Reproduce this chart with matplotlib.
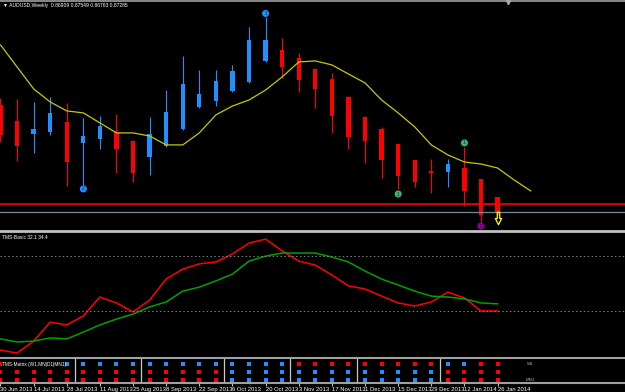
import matplotlib
matplotlib.use("Agg")
import matplotlib.pyplot as plt
from matplotlib.lines import Line2D
from matplotlib.path import Path
import matplotlib.transforms as mtransforms

plt.rcParams['font.family'] = ['Liberation Sans', 'DejaVu Sans']

# weekly AUDUSD candles, 30 Jun 2013 .. 26 Jan 2014
opens = [0.9273, 0.9185, 0.9113, 0.9124, 0.9179, 0.9064, 0.9086, 0.9124, 0.9075, 0.8987,
         0.9047, 0.9141, 0.9262, 0.9295, 0.9350, 0.9399, 0.9515, 0.9575, 0.9531, 0.9471,
         0.9416, 0.9317, 0.9207, 0.9141, 0.9058, 0.8970, 0.8910, 0.8904, 0.8926, 0.8866,
         0.8767]
highs = [0.9311, 0.9306, 0.9289, 0.9317, 0.9284, 0.9201, 0.9212, 0.9223, 0.9080, 0.9207,
         0.9355, 0.9542, 0.9465, 0.9465, 0.9493, 0.9702, 0.9757, 0.9641, 0.9559, 0.9476,
         0.9449, 0.9322, 0.9212, 0.9152, 0.9058, 0.8970, 0.8976, 0.8976, 0.9042, 0.8866,
         0.8767]
lows = [0.9069, 0.8965, 0.9009, 0.9108, 0.8827, 0.8827, 0.9031, 0.8899, 0.8849, 0.8888,
        0.9042, 0.9135, 0.9256, 0.9267, 0.9344, 0.9394, 0.9509, 0.9421, 0.9344, 0.9256,
        0.9119, 0.9031, 0.8954, 0.8871, 0.8811, 0.8822, 0.8789, 0.8822, 0.8717, 0.8629,
        0.8668]
closes = [0.9108, 0.9047, 0.9141, 0.9229, 0.8959, 0.9102, 0.9157, 0.9031, 0.8899, 0.9113,
          0.9234, 0.9388, 0.9333, 0.9405, 0.9460, 0.9630, 0.9630, 0.9482, 0.9410, 0.9361,
          0.9212, 0.9097, 0.9075, 0.8970, 0.8882, 0.8849, 0.8899, 0.8948, 0.8800, 0.8668,
          0.8684]

# moving average (shifted two bars forward)
ma = [0.9603, 0.9482, 0.9361, 0.9289, 0.9240, 0.9229, 0.9174, 0.9119, 0.9119, 0.9102,
      0.9053, 0.9053, 0.9119, 0.9218, 0.9267, 0.9300, 0.9355, 0.9427, 0.9509, 0.9515,
      0.9493, 0.9443, 0.9394, 0.9300, 0.9229, 0.9152, 0.9053, 0.8998, 0.8959, 0.8948,
      0.8926, 0.8860, 0.8800]

bid_line = 0.8726
low_line = 0.8682

# wave labels
mark_idx = [16, 5, 24, 28, 29]
mark_price = [0.9776, 0.8811, 0.8783, 0.9064, 0.8607]
mark_text = ['1', '2', '1', '1', '3']
mark_color = ['#1e90ff', '#1e90ff', '#3cb371', '#3cb371', '#8b008b']

arrow_idx = 30
arrow_price = 0.8652

# TMS-Basic indicator
tms_red = [19.5, 18.5, 22.4, 28.5, 27.6, 30.5, 36.6, 34.7, 31.8, 35.6, 42.4, 45.6, 47.3,
           47.9, 50.5, 54.0, 55.3, 51.5, 48.2, 46.9, 43.7, 40.2, 39.2, 36.9, 34.7, 33.7,
           35.0, 38.2, 36.3, 32.1, 32.1]
tms_green = [23.1, 22.1, 22.4, 23.4, 23.1, 25.3, 27.6, 29.5, 31.1, 33.4, 35.0, 38.5, 39.8,
             41.8, 44.0, 48.2, 49.8, 50.8, 50.8, 50.8, 49.5, 47.9, 45.0, 42.4, 40.5, 38.5,
             36.9, 36.6, 36.0, 34.7, 34.4]
tms_levels = [32, 50]

# TMS-Matrix rows ('' = hidden under the label)
row_w1 = ['R', '', '', '', 'B', 'B', 'B', 'B', 'B', 'B', 'B', 'B', 'B', 'B', 'B', 'B', 'B',
          'B', 'R', 'R', 'R', 'R', 'R', 'R', 'R', 'R', 'R', 'B', 'B', 'R', 'R']
row_mid = ['R'] * 14 + ['B'] * 13 + ['R'] * 4
row_mn1 = ['R'] * 14 + ['B'] * 13 + ['R'] * 4
month_breaks = [4.5, 8.5, 13.5, 17.5, 21.5, 26.5]

date_labels = ['30 Jun 2013', '14 Jul 2013', '28 Jul 2013', '11 Aug 2013', '25 Aug 2013',
               '8 Sep 2013', '22 Sep 2013', '6 Oct 2013', '20 Oct 2013', '3 Nov 2013',
               '17 Nov 2013', '1 Dec 2013', '15 Dec 2013', '29 Dec 2013', '12 Jan 2014',
               '26 Jan 2014']

BULL = '#1e90ff'
BEAR = '#ff0000'
H = 392.0

fig = plt.figure(figsize=(6.25, 3.92), dpi=100, facecolor='black')
xlim = (-0.03, 37.69)

def box(top, bottom):
    return [0, 1 - bottom / H, 1, (bottom - top) / H]

ax = fig.add_axes(box(2, 230))
ind = fig.add_axes(box(233, 356))
mat = fig.add_axes(box(358, 383))
for a in (ax, ind, mat):
    a.set_facecolor('black')
    a.set_xlim(*xlim)
    for s in a.spines.values():
        s.set_visible(False)
    a.set_yticks([])

# main chart
n = len(opens)
xs = list(range(n))
cols = [BULL if c >= o else BEAR for o, c in zip(opens, closes)]
ax.vlines(xs, lows, highs, colors=cols, lw=0.8)
ax.bar(xs, [abs(c - o) for o, c in zip(opens, closes)],
       bottom=[min(o, c) for o, c in zip(opens, closes)],
       width=0.26, color=cols, lw=0)
ax.plot(range(len(ma)), ma, color='#c8c800', lw=0.9)
ax.axhline(bid_line, color='#ff0000', lw=1.2)
ax.axhline(low_line, color='#778899', lw=0.9)
ax.scatter(mark_idx, mark_price, s=26, c=mark_color, zorder=5, lw=0)
for i, p, t in zip(mark_idx, mark_price, mark_text):
    ax.text(i, p, t, fontsize=3.5, color='#102040', ha='center', va='center', zorder=6)

arrow = Path([(-0.2, 1), (0.2, 1), (0.2, 0), (0.5, 0), (0, -1), (-0.5, 0), (-0.2, 0), (-0.2, 1)],
             closed=True)
ax.plot([arrow_idx], [arrow_price], marker=arrow, ms=9, mfc='none', mec='#ffff00', mew=0.9)
ax.set_ylim(0.8585, 0.9839)
ax.set_xticks([])
trans = mtransforms.blended_transform_factory(ax.transData, fig.transFigure)
ax.plot([30.6], [1 - 2 / H], marker='v', ms=3, color='#b0b0b0', transform=trans, clip_on=False)
fig.text(0.005, 1 - 6 / H, '\u25bc AUDUSD,Weekly  0.86909 0.87549 0.86763 0.87285',
         fontsize=3.6, color='white', va='center')

# indicator
ind.plot(xs, tms_red, color='#ff0000', lw=1.1)
ind.plot(xs, tms_green, color='#00a000', lw=1.1)
for lv in tms_levels:
    ind.axhline(lv, color='#808080', lw=0.7, ls=(0, (1.5, 2.5)))
ind.set_ylim(17.58, 57.26)
ind.set_xticks([])
fig.text(0.004, 1 - 237.5 / H, 'TMS-Basic 32.1 34.4', fontsize=3.5, color='white', va='center')

# matrix
for r, row in enumerate([row_w1, row_mid, row_mn1]):
    for i, v in enumerate(row):
        if v:
            mat.scatter(i, r, marker='s', s=5, lw=0, c=BULL if v == 'B' else BEAR)
for b in month_breaks:
    mat.axvline(b, color='#c8c8c8', lw=0.9)
mat.set_ylim(2.38, -0.80)
mat.text(31.8, 0, 'W1', fontsize=3.2, color='#b0b0b0', va='center')
mat.text(31.7, 2, 'MN1', fontsize=3.2, color='#b0b0b0', va='center')
fig.text(0.004, 1 - 364.5 / H, 'TMS-Matrix (W1,MN|D1|MN1)', fontsize=3.4, color='white', va='center')

mat.set_xticks(range(0, n, 2))
mat.set_xticklabels(date_labels, fontsize=4.2, color='white', ha='left')
mat.tick_params(axis='x', direction='out', length=2.5, width=0.8, color='#c0c0c0', pad=0.3)

# panel separators
for y, lw, c in [(0.5, 1.2, '#a0a0a0'), (231.5, 2.0, '#c0c0c0'),
                 (357.5, 1.5, '#a0a0a0'), (383.0, 1.5, '#a0a0a0')]:
    fig.add_artist(Line2D([0, 1], [1 - y / H, 1 - y / H], transform=fig.transFigure,
                          color=c, lw=lw))

fig.savefig('out.png', dpi=100, facecolor='black')
